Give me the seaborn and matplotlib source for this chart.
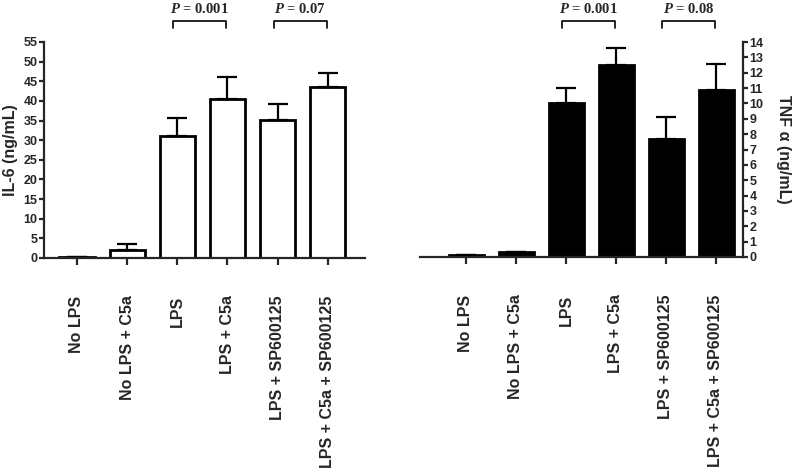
import numpy as np
import matplotlib
matplotlib.use('Agg')
import matplotlib.pyplot as plt
import seaborn as sns

# data
groups = ['No LPS', 'No LPS + C5a', 'LPS', 'LPS + C5a',
          'LPS + SP600125', 'LPS + C5a + SP600125']
il6_mean = [0.3, 2.0, 31.0, 40.5, 35.2, 43.5]
il6_err = [0.0, 1.5, 4.6, 5.5, 4.1, 3.5]
tnf_mean = [0.15, 0.3, 10.0, 12.5, 7.7, 10.9]
tnf_err = [0.0, 0.0, 1.0, 1.1, 1.4, 1.7]

il6_pairs = [(2, 3, 'P', '0.001'), (4, 5, 'P', '0.07')]
tnf_pairs = [(2, 3, 'P', '0.001'), (4, 5, 'P', '0.08')]

sns.set_style('ticks')
plt.rcParams['font.family'] = ['Liberation Sans', 'DejaVu Sans']
plt.rcParams['font.weight'] = 'bold'
plt.rcParams['mathtext.fontset'] = 'custom'
plt.rcParams['mathtext.it'] = 'Liberation Serif:italic:bold'
plt.rcParams['mathtext.rm'] = 'Liberation Serif:bold'

LW = 1.6

fig = plt.figure(figsize=(8, 4.7), dpi=100)
ax1 = fig.add_axes([0.055, 0.4511, 0.401, 0.4596])
ax2 = fig.add_axes([0.525, 0.4532, 0.40375, 0.4574])


def draw_panel(ax, means, errs, face, ymax, step):
    sns.barplot(x=groups, y=means, color=face, edgecolor='black',
                linewidth=2.0, width=0.7, saturation=1, ax=ax)
    x = np.arange(len(groups))
    upper = [e for e in errs]
    lower = [0] * len(errs)
    ax.errorbar(x, means, yerr=[lower, upper], fmt='none', ecolor='black',
                elinewidth=LW, capsize=7, capthick=LW, zorder=1)
    ax.set_ylim(0, ymax)
    ax.set_yticks(np.arange(0, ymax + 0.01, step))
    ax.tick_params(axis='y', length=3.6, width=LW, pad=1, labelsize=9)
    ax.tick_params(axis='x', length=5, width=LW, pad=22, labelsize=11.5,
                   rotation=90)
    for lab in ax.get_xticklabels():
        lab.set_fontweight('bold')
    for lab in ax.get_yticklabels():
        lab.set_fontweight('bold')
    for s in ax.spines.values():
        s.set_linewidth(LW)


def draw_brackets(ax, pairs):
    tr = ax.get_xaxis_transform()
    for i, j, p, val in pairs:
        x0, x1 = i - 0.08, j - 0.02
        ax.plot([x0, x0, x1, x1], [1.065, 1.097, 1.097, 1.065], color='black',
                lw=1.2, transform=tr, clip_on=False)
        ax.text((x0 + x1) / 2, 1.122, '$' + p + '$ = ' + val, transform=tr,
                ha='center', va='bottom', fontsize=10.5,
                family='Liberation Serif', fontweight='bold')


draw_panel(ax1, il6_mean, il6_err, 'white', 55, 5)
ax1.set_xlim(-0.657, 5.737)
sns.despine(ax=ax1)
ax1.set_ylabel('IL-6 (ng/mL)', fontsize=11.5, fontweight='bold', labelpad=4)
draw_brackets(ax1, il6_pairs)

draw_panel(ax2, tnf_mean, tnf_err, 'black', 14, 1)
ax2.set_xlim(-0.92, 5.54)
sns.despine(ax=ax2, left=True, right=False)
ax2.yaxis.tick_right()
ax2.yaxis.set_label_position('right')
ax2.set_ylabel('TNF α (ng/mL)', fontsize=11.5, fontweight='bold',
               rotation=270, labelpad=20)
draw_brackets(ax2, tnf_pairs)

fig.savefig('out.png', dpi=100)
